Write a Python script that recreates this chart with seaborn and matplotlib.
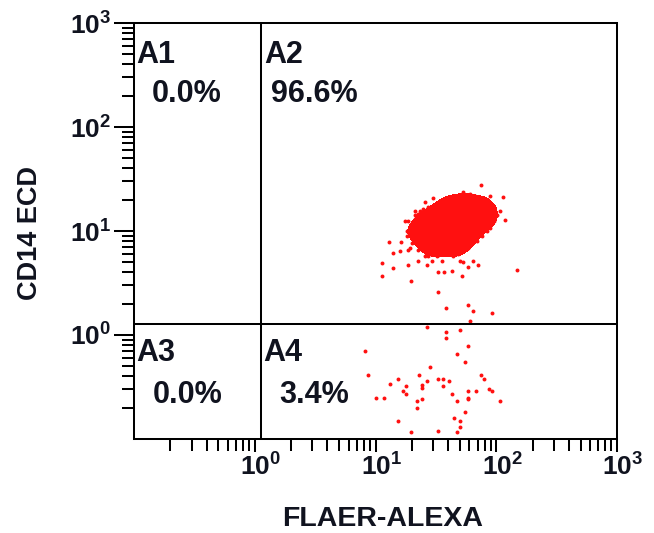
import numpy as np
import pandas as pd
import matplotlib
matplotlib.use("Agg")
import matplotlib.pyplot as plt
import matplotlib.transforms as mtransforms
from matplotlib.colors import ListedColormap
from matplotlib.ticker import FixedLocator, FixedFormatter, LogLocator, NullFormatter
import seaborn as sns

# ---- events (FLAER-ALEXA, CD14 ECD) ----
# dense monocyte cluster
core_flaer = [37.6, 45.6, 55.1, 66.7, 80.7,
              31.1, 37.6, 45.6, 55.1, 66.7, 80.7, 94.0,
              25.7, 31.1, 37.6, 45.6, 55.1, 66.7, 80.7, 97.6,
              21.2, 25.7, 31.1, 37.6, 45.6, 55.1, 66.7, 80.7, 95.8,
              19.3, 23.4, 28.3, 34.2, 41.4, 50.1, 60.6, 73.4, 88.8,
              19.3, 23.4, 28.3, 34.2, 41.4, 50.1, 60.6, 73.4,
              20.8, 25.2, 30.5, 36.9, 44.7, 54.1, 65.4,
              23.4, 28.3, 34.2, 41.4, 50.1, 58.4,
              27.2, 32.9, 39.9, 48.2]
core_cd14 = [20.5, 21.4, 22.4, 21.9, 20.5,
             17.6, 18.0, 18.4, 18.8, 18.4, 18.0, 17.2,
             15.1, 15.4, 15.7, 15.7, 16.1, 15.7, 15.4, 14.7,
             12.9, 13.2, 13.5, 13.5, 13.8, 13.8, 13.5, 13.2, 12.6,
             10.8, 11.05, 11.3, 11.55, 11.55, 11.55, 11.3, 11.05, 10.8,
             9.26, 9.46, 9.67, 9.67, 9.67, 9.67, 9.46, 9.26,
             7.93, 8.11, 8.29, 8.29, 8.29, 8.11, 7.93,
             6.79, 6.94, 6.94, 6.94, 6.79, 6.79,
             5.95, 5.82, 5.95, 5.95]

# scattered events around the cluster
halo_flaer = [74.7, 114, 119, 149, 11.3, 11.3, 14.0, 12.9, 32.9, 36.9,
              52.5, 43.0, 58.4, 64.2, 25.7, 29.9, 14.0, 16.2, 17.5, 18.6,
              26.7, 101, 88.8, 107, 16.0, 18.6, 18.2, 22.5, 27.2, 70.6,
              53.0, 64.2, 18.6, 21.2, 22.5, 19.7,
              24.7, 27.2, 21.2, 23.4, 20.1, 28.3, 32.3,
              47.3, 53.0, 60.6, 77.7, 85.4, 92.2,
              18.2, 20.1, 22.5, 25.7, 29.4, 32.3, 35.5, 21.2, 19.3,
              43.8, 48.2, 55.1, 60.6, 69.3, 76.2, 83.8, 50.1]
halo_cd14 = [27.9, 21.0, 12.8, 4.2, 4.9, 3.66, 4.4, 7.9, 4.0, 4.0,
             3.66, 4.1, 4.5, 5.2, 19.2, 20.8, 6.1, 7.9, 12.4, 4.7,
             4.7, 14.1, 21.9, 15.4, 6.4, 6.5, 9.9, 5.2, 5.8, 4.7,
             5.0, 9.9, 12.6, 15.7, 14.7, 3.3,
             16.4, 17.2, 14.1, 15.4, 11.8, 13.8, 17.6,
             21.4, 23.9, 22.9, 20.5, 19.2, 12.6,
             9.05, 7.6, 6.5, 5.8, 5.2, 5.7, 5.1, 8.5, 6.8,
             5.7, 6.1, 6.8, 7.6, 8.1, 9.05, 9.9, 5.2]

# sparse events between the cluster and the CD14 gate
gap_flaer = [32.9, 38.4, 58.4, 64.2, 92.2, 60.6]
gap_cd14 = [2.57, 1.80, 1.93, 1.69, 1.62, 1.35]

# CD14-negative events (quadrant A4)
low_flaer = [8.2, 8.7, 10.1, 11.8, 13.2, 15.4, 15.4, 16.8, 17.8, 17.8,
             19.7, 22.1, 22.1, 22.9, 24.3, 24.3, 24.3, 26.7, 28.3, 26.7,
             33.0, 33.0, 36.2, 36.2, 38.3, 38.3, 40.6, 43.0, 44.7, 47.3,
             47.3, 47.3, 50.1, 50.1, 50.1, 55.1, 55.1, 58.4, 58.4, 58.4,
             58.4, 67.9, 74.7, 79.1, 87.0, 92.2, 107]
low_cd14 = [0.70, 0.41, 0.25, 0.25, 0.34, 0.38, 0.15, 0.29, 0.32, 0.27,
            0.117, 0.23, 0.20, 0.41, 0.33, 0.31, 0.24, 0.36, 0.49, 1.19,
            0.38, 0.12, 0.38, 0.32, 1.06, 0.93, 0.36, 0.27, 0.16, 0.65,
            0.23, 0.117, 1.11, 0.15, 0.13, 0.55, 0.18, 0.78, 0.29, 0.25,
            0.24, 0.29, 0.41, 0.38, 0.30, 0.29, 0.23]

# quadrant gates and statistics
x_gate = 1.12
y_gate = 1.27
regions = ["A1", "A2", "A3", "A4"]
percents = [0.0, 96.6, 0.0, 3.4]

decades = [1, 10, 100, 1000]
decade_labels = ["$10^{0}$", "$10^{1}$", "$10^{2}$", "$10^{3}$"]

# ---- style ----
sns.set_style("ticks")
plt.rcParams.update({
    "font.family": ["Liberation Sans", "DejaVu Sans"],
    "font.weight": "bold",
    "mathtext.fontset": "custom",
    "mathtext.rm": "Liberation Sans:bold",
    "mathtext.it": "Liberation Sans:bold",
    "mathtext.bf": "Liberation Sans:bold",
    "mathtext.default": "bf",
    "axes.edgecolor": "black",
    "axes.linewidth": 1.45,
})
ink = "#10131f"
dot = "#ff1010"

fig = plt.figure(figsize=(6.54, 5.33), dpi=100)
ax = fig.add_axes([134 / 654, 1 - 439 / 533, 483 / 654, 416 / 533])
ax.set_xscale("log")
ax.set_yscale("log")

events = pd.DataFrame({
    "FLAER-ALEXA": core_flaer + halo_flaer + gap_flaer + low_flaer,
    "CD14 ECD": core_cd14 + halo_cd14 + gap_cd14 + low_cd14,
})

# solid high-density core of the cluster
sns.kdeplot(x=np.array(core_flaer), y=np.array(core_cd14), fill=True,
            levels=[0.18, 1.0], cmap=ListedColormap([dot]), log_scale=True,
            bw_adjust=0.6, ax=ax)
# individual events
sns.scatterplot(data=events, x="FLAER-ALEXA", y="CD14 ECD", s=8,
                color=dot, linewidth=0, legend=False, ax=ax, zorder=2)

# quadrant gates
ax.axvline(x_gate, color="black", lw=1.45, zorder=3)
ax.axhline(y_gate, color="black", lw=1.45, zorder=3)

ax.set_xlim(0.1, 1000)
ax.set_ylim(0.1, 1000)

for axis in (ax.xaxis, ax.yaxis):
    axis.set_major_locator(FixedLocator(decades))
    axis.set_major_formatter(FixedFormatter(decade_labels))
    axis.set_minor_locator(LogLocator(base=10, subs=np.arange(2, 10), numticks=20))
    axis.set_minor_formatter(NullFormatter())

ax.tick_params(axis="both", which="both", direction="out", width=1.45,
               colors="black", labelcolor=ink, labelsize=19)
ax.tick_params(axis="x", which="major", length=9.4, pad=1)
ax.tick_params(axis="x", which="minor", length=8.6)
ax.tick_params(axis="y", which="major", length=14.4, pad=2)
ax.tick_params(axis="y", which="minor", length=8.6)
ax.tick_params(top=False, right=False, which="both")

# "10" centred on the tick, exponent hanging to the right
shift = mtransforms.ScaledTranslation(6 / 100, 0, fig.dpi_scale_trans)
for lab in ax.get_xticklabels():
    lab.set_transform(lab.get_transform() + shift)

ax.set_xlabel("")
ax.set_ylabel("")
for side in ("top", "right", "bottom", "left"):
    ax.spines[side].set_visible(True)
    ax.spines[side].set_linewidth(1.45)

# quadrant names and percentages
anchors = [(0.1, 1000), (x_gate, 1000), (0.1, y_gate), (x_gate, y_gate)]
name_dx = [2, 4, 2, 3]
name_dy = [-40, -40, -37, -37]
pct_dx = [18, 10, 19, 19]
pct_dy = [-79, -79, -79, -79]
for name, pct, xy, ndx, ndy, pdx, pdy in zip(regions, percents, anchors,
                                            name_dx, name_dy, pct_dx, pct_dy):
    ax.annotate(name, xy=xy, xycoords="data", xytext=(ndx, ndy),
                textcoords="offset pixels", ha="left", va="baseline",
                fontsize=22, fontweight="bold", color=ink, zorder=4)
    ax.annotate(f"{pct:.1f}%", xy=xy, xycoords="data", xytext=(pdx, pdy),
                textcoords="offset pixels", ha="left", va="baseline",
                fontsize=22, fontweight="bold", color=ink, zorder=4)

fig.text(383 / 654, 1 - 518.5 / 533, "FLAER-ALEXA", ha="center", va="center",
         fontsize=20.5, fontweight="bold", color=ink)
fig.text(30 / 654, 1 - 233.5 / 533, "CD14 ECD", ha="center", va="center",
         rotation=90, fontsize=19.5, fontweight="bold", color=ink)

fig.savefig("out.png", dpi=100, facecolor="white")
